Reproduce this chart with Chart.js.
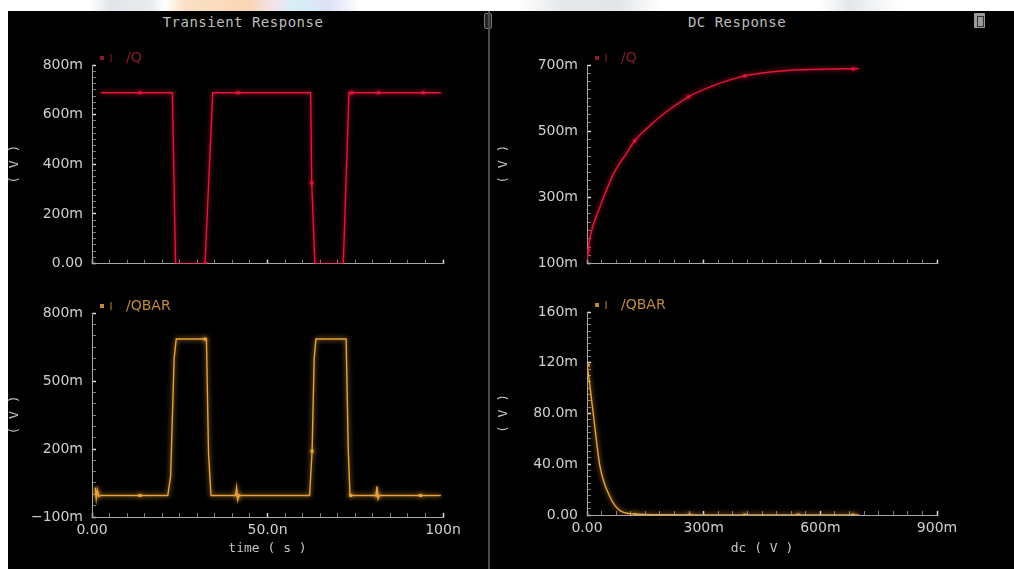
<!DOCTYPE html>
<html>
<head>
<meta charset="utf-8">
<title>Transient / DC Response</title>
<script src="https://cdn.jsdelivr.net/npm/chart.js@4.4.1/dist/chart.umd.min.js"></script>
<style>
  html, body { margin: 0; padding: 0; }
  body { width: 1014px; height: 569px; overflow: hidden; position: relative; background: #fff; }
  #strip {
    position: absolute; left: 0; top: 0; width: 1014px; height: 11px;
    background: linear-gradient(90deg, #fff 0px, #fff 90px, #e2e6ea 110px, #e8ebee 150px, #fff 165px,
      #fbe0c4 185px, #f9d6b4 250px, #f3e4ee 275px, #d6eff6 295px, #dde2f6 330px, #fff 360px,
      #fff 520px, #e6e8ea 560px, #e3e6e9 620px, #fff 660px, #fff 820px, #e4e7ea 850px, #fff 900px);
  }
  #panel { position: absolute; left: 8px; top: 11px; width: 1006px; height: 558px; background: #000; }
  #sep { position: absolute; left: 488px; top: 11px; width: 2px; height: 558px; background: #4a4a4a; }
  .title {
    position: absolute; top: 14px; transform: translateX(-50%); white-space: nowrap;
    font-family: 'DejaVu Sans Mono', monospace; font-size: 14px; letter-spacing: 0.5px; color: #bdbdbd;
  }
  #iconL { position: absolute; left: 484px; top: 13px; width: 6px; height: 14px; border: 1px solid #777; border-radius: 2px; background: #262626; }
  #iconR { position: absolute; left: 974px; top: 13px; width: 11px; height: 15px; background: #9a9a9a; border-radius: 1px; }
  #iconR div { position: absolute; left: 3px; top: 3px; width: 5px; height: 9px; border: 1px solid #333; }
  canvas { position: absolute; }
</style>
</head>
<body>
<div id="strip"></div>
<div id="panel"></div>
<div class="title" style="left:243px">Transient Response</div>
<div class="title" style="left:737px">DC Response</div>
<div id="iconL"></div>
<div id="iconR"><div></div></div>

<canvas id="cTL" width="481" height="255" style="left:8px;top:30px"></canvas>
<canvas id="cBL" width="481" height="284" style="left:8px;top:285px"></canvas>
<canvas id="cTR" width="517" height="255" style="left:497px;top:30px"></canvas>
<canvas id="cBR" width="517" height="284" style="left:497px;top:285px"></canvas>
<div id="sep"></div>

<script>
// Transient: tiempo en ns, tensión en V
const tranQTime = [2.5, 22.9, 23.8, 32.2, 34.4, 62.3, 62.6, 63.5, 71.6, 73.2, 99.4];
const tranQ     = [0.688, 0.688, 0, 0, 0.688, 0.688, 0.325, 0, 0, 0.688, 0.688];
const tranQMarkTime = [13.7, 32.4, 41.6, 62.6, 74.0, 81.6, 94.3];
const tranQMark     = [0.688, 0, 0.688, 0.325, 0.688, 0.688, 0.688];

const tranQbarTime = [0.9, 1.2, 1.5, 1.9, 2.4, 21.6, 22.4, 23.4, 24.0, 32.6, 33.2, 33.9,
  40.9, 41.2, 41.5, 41.9, 62.0, 62.7, 63.3, 63.8, 72.4, 73.0, 73.5, 80.9, 81.2, 81.5, 81.9, 99.4];
const tranQbar     = [0.03, -0.02, 0.02, -0.01, -0.005, -0.005, 0.08, 0.6, 0.685, 0.685, 0.18, -0.005,
  -0.005, 0.03, -0.025, -0.005, -0.005, 0.19, 0.6, 0.685, 0.685, 0.2, -0.005, -0.005, 0.035, -0.02, -0.005, -0.005];
const tranQbarMarkTime = [1.4, 13.7, 32.2, 41.6, 62.7, 73.7, 81.2, 93.6];
const tranQbarMark     = [0.005, -0.005, 0.685, -0.005, 0.19, -0.005, -0.005, -0.005];

// DC: barrido dc en V
const dcQSweep = [0, 0.008, 0.033, 0.072, 0.1, 0.123, 0.16, 0.2, 0.261, 0.33, 0.406, 0.5, 0.6, 0.7];
const dcQ      = [0.11, 0.18, 0.27, 0.38, 0.43, 0.471, 0.515, 0.555, 0.604, 0.64, 0.667, 0.682, 0.687, 0.689];
const dcQMarkSweep = [0.003, 0.123, 0.261, 0.406, 0.685];
const dcQMark      = [0.14, 0.471, 0.604, 0.667, 0.688];

const dcQbarSweep = [0, 0.004, 0.016, 0.033, 0.059, 0.085, 0.123, 0.2, 0.3, 0.45, 0.6, 0.7];
const dcQbar      = [0.118, 0.11, 0.08, 0.039, 0.0144, 0.0035, 0.0008, 0.0002, 0, 0, 0, 0];
const dcQbarMarkSweep = [0.003, 0.123, 0.264, 0.406, 0.543, 0.684];
const dcQbarMark      = [0.118, 0, 0, 0, 0, 0];

// ejes: [min, max, paso menor, paso mayor]
const tranXAxis  = [0, 100, 5, 50];
const dcXAxis    = [0, 0.9, 0.0375, 0.3];
const tranQAxis  = [0, 0.8, 0.025, 0.2];
const tranQbarAxis = [-0.1, 0.8, 0.05, 0.3];
const dcQAxis    = [0.1, 0.7, 0.025, 0.2];
const dcQbarAxis = [0, 0.16, 0.005, 0.04];

const RED = '#e3163a', ORANGE = '#e8a23c';
const AXIS = '#a8a8a8', LABEL = '#cfcfcf';

// util
function toPts(xs, ys) { return xs.map((x, i) => ({ x: x, y: ys[i] })); }
function isMajor(v, min, major) { const r = (v - min) / major; return Math.abs(r - Math.round(r)) < 1e-6; }
function eng(v) {
  if (Math.abs(v) < 1e-15) return '0.00';
  const pre = [[1e-9, 'n'], [1e-6, 'u'], [1e-3, 'm'], [1, '']];
  let s = 1, p = '';
  for (const [f, q] of pre) { if (Math.abs(v) >= f * 0.9999) { s = f; p = q; } }
  const m = v / s, a = Math.abs(m);
  const txt = a >= 99.95 ? a.toFixed(0) : a >= 9.995 ? a.toFixed(1) : a.toFixed(2);
  return (m < 0 ? '\u2212' : '') + txt + p;
}

function axis(pos, ax, unit, size, showLabels, title) {
  const [min, max, step, major] = ax;
  const s = {
    type: 'linear', position: pos, min: min, max: max,
    border: { display: true, color: AXIS, width: 1 },
    grid: {
      drawOnChartArea: false, drawTicks: true, tickLength: -4,
      tickColor: c => isMajor(c.tick.value, min, major) ? '#dcdcdc' : '#7c7c7c',
      tickWidth: c => isMajor(c.tick.value, min, major) ? 1.5 : 1
    },
    ticks: {
      stepSize: step, autoSkip: false, maxRotation: 0, minRotation: 0,
      padding: pos === 'left' ? 13 : 9, color: LABEL,
      font: { family: '"DejaVu Sans"', size: 14, lineHeight: 1.2 },
      callback: v => (showLabels && isMajor(v, min, major)) ? eng(v * unit) : ''
    },
    title: title ? {
      display: true, text: title, color: '#c4c4c4',
      font: { family: '"DejaVu Sans Mono"', size: 13, lineHeight: 1 },
      padding: pos === 'left' ? 0 : { top: 0, bottom: 14 }
    } : { display: false }
  };
  if (pos === 'left') s.afterFit = sc => { sc.width = size; };
  else s.afterFit = sc => { sc.height = size; };
  return s;
}

// plugins
const glow = {
  id: 'glow',
  beforeDatasetDraw(chart, args) {
    const ds = chart.data.datasets[args.index];
    chart.ctx.save();
    chart.ctx.shadowColor = ds.borderColor;
    chart.ctx.shadowBlur = 5;
  },
  afterDatasetDraw(chart) { chart.ctx.restore(); }
};

const tag = {
  id: 'tag',
  afterDraw(chart) {
    const ds = chart.data.datasets[0];
    const { ctx, chartArea } = chart;
    const y = chartArea.top - 7;
    ctx.save();
    ctx.fillStyle = ds.tagColor;
    ctx.strokeStyle = ds.tagColor;
    ctx.fillRect(chartArea.left + 8, y - 2, 4, 4);
    ctx.beginPath();
    ctx.moveTo(chartArea.left + 19, y - 4);
    ctx.lineTo(chartArea.left + 19, y + 4);
    ctx.stroke();
    ctx.font = '14px "DejaVu Sans"';
    ctx.textBaseline = 'middle';
    ctx.fillText(ds.label, chartArea.left + 34, y);
    ctx.restore();
  }
};

function makeChart(id, c) {
  return new Chart(document.getElementById(id), {
    type: 'line',
    data: {
      datasets: [
        { label: c.label, tagColor: c.tagColor, data: toPts(c.x, c.y), borderColor: c.color, borderWidth: 1.4,
          pointRadius: 0, tension: 0, cubicInterpolationMode: c.smooth ? 'monotone' : 'default' },
        { label: c.label + ' markers', data: toPts(c.mx, c.my), showLine: false, pointStyle: 'rect',
          pointRadius: 2.2, borderWidth: 0, backgroundColor: c.color, borderColor: c.color }
      ]
    },
    options: {
      responsive: false, animation: false, events: [],
      layout: { padding: c.pad },
      plugins: { legend: { display: false }, tooltip: { enabled: false } },
      scales: { x: c.xs, y: c.ys }
    },
    plugins: [glow, tag]
  });
}

makeChart('cTL', {
  label: '/Q', color: RED, tagColor: '#8a1a2c',
  x: tranQTime, y: tranQ, mx: tranQMarkTime, my: tranQMark,
  pad: { top: 35, right: 46, left: 0, bottom: 0 },
  xs: axis('bottom', tranXAxis, 1e-9, 15, false, null),
  ys: axis('left', tranQAxis, 1, 84, true, '( V )')
});

makeChart('cBL', {
  label: '/QBAR', color: ORANGE, tagColor: '#c08a38',
  x: tranQbarTime, y: tranQbar, mx: tranQbarMarkTime, my: tranQbarMark,
  pad: { top: 28, right: 46, left: 0, bottom: 0 },
  xs: axis('bottom', tranXAxis, 1e-9, 52, true, 'time ( s )'),
  ys: axis('left', tranQbarAxis, 1, 84, true, '( V )')
});

makeChart('cTR', {
  label: '/Q', color: RED, tagColor: '#8a1a2c', smooth: true,
  x: dcQSweep, y: dcQ, mx: dcQMarkSweep, my: dcQMark,
  pad: { top: 35, right: 77, left: 0, bottom: 0 },
  xs: axis('bottom', dcXAxis, 1, 18, false, null),
  ys: axis('left', dcQAxis, 1, 90, true, '( V )')
});

makeChart('cBR', {
  label: '/QBAR', color: ORANGE, tagColor: '#c08a38', smooth: true,
  x: dcQbarSweep, y: dcQbar, mx: dcQbarMarkSweep, my: dcQbarMark,
  pad: { top: 27, right: 77, left: 0, bottom: 0 },
  xs: axis('bottom', dcXAxis, 1, 54, true, 'dc ( V )'),
  ys: axis('left', dcQbarAxis, 1, 90, true, '( V )')
});
</script>
</body>
</html>
